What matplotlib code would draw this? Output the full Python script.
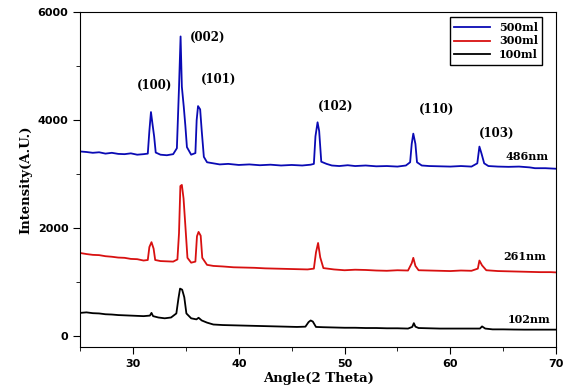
import matplotlib
matplotlib.use("Agg")
import matplotlib.pyplot as plt
from matplotlib.ticker import MultipleLocator

# 500ml sample (blue)
ang_500 = [25.0, 25.6, 26.2, 26.8, 27.4, 28.0, 28.6, 29.2, 29.8, 30.4, 31.0, 31.4,
           31.55, 31.7, 31.85, 32.0, 32.15, 32.6, 33.2, 33.8, 34.15, 34.35, 34.5,
           34.62, 34.8, 34.95, 35.1, 35.5, 35.9, 36.02, 36.15, 36.35, 36.5, 36.7,
           37.0, 37.6, 38.2, 39.0, 40.0, 41.0, 42.0, 43.0, 44.0, 45.0, 46.0, 46.8,
           47.1, 47.25, 47.45, 47.6, 47.8, 48.3, 48.8, 49.5, 50.3, 51.0, 52.0,
           53.0, 54.0, 55.0, 55.8, 56.2, 56.35, 56.5, 56.7, 56.85, 57.3, 58.0,
           59.0, 60.0, 61.0, 62.0, 62.55, 62.75, 62.95, 63.2, 63.6, 64.5, 65.5,
           66.5, 67.5, 68.0, 69.0, 70.0]
int_500 = [3420, 3410, 3395, 3405, 3380, 3395, 3375, 3370, 3385, 3360, 3370, 3380,
           3800, 4150, 3920, 3700, 3400, 3360, 3350, 3370, 3480, 4600, 5550,
           4620, 4250, 3900, 3500, 3360, 3390, 4000, 4260, 4200, 3800, 3320,
           3220, 3200, 3180, 3190, 3170, 3180, 3165, 3175, 3160, 3170, 3160, 3175,
           3190, 3700, 3960, 3800, 3230, 3190, 3160, 3150, 3165, 3150, 3160,
           3145, 3150, 3140, 3160, 3220, 3560, 3750, 3560, 3220, 3160, 3150,
           3145, 3140, 3150, 3140, 3200, 3510, 3380, 3200, 3150, 3140, 3135,
           3140, 3125, 3110, 3110, 3100]

# 300ml sample (red)
ang_300 = [25.0, 25.6, 26.2, 26.8, 27.4, 28.0, 28.6, 29.2, 29.8, 30.4, 31.0, 31.4,
           31.55, 31.75, 31.95, 32.1, 32.6, 33.2, 33.8, 34.2, 34.35, 34.48, 34.62,
           34.78, 34.95, 35.15, 35.5, 35.9, 36.05, 36.2, 36.4, 36.55, 37.0, 37.6,
           38.5, 39.5, 40.5, 41.5, 42.5, 43.5, 44.5, 45.5, 46.5, 47.1, 47.3, 47.5,
           47.7, 48.0, 49.0, 50.0, 51.0, 52.0, 53.0, 54.0, 55.0, 56.0, 56.35, 56.5,
           56.7, 57.0, 58.0, 59.0, 60.0, 61.0, 62.0, 62.6, 62.75, 63.0, 63.4, 64.5,
           65.5, 66.5, 67.5, 68.5, 69.5, 70.0]
int_300 = [1540, 1520, 1505, 1500, 1480, 1470, 1455, 1450, 1430, 1425, 1400, 1410,
           1650, 1740, 1620, 1410, 1390, 1385, 1380, 1420, 1900, 2780, 2800,
           2550, 2050, 1450, 1360, 1380, 1850, 1930, 1860, 1450, 1320, 1300,
           1290, 1275, 1270, 1265, 1255, 1250, 1245, 1240, 1235, 1250, 1550, 1725,
           1460, 1260, 1235, 1220, 1230, 1225, 1215, 1210, 1220, 1215, 1350, 1450,
           1300, 1220, 1215, 1210, 1205, 1215, 1210, 1250, 1400, 1310, 1220, 1205,
           1200, 1195, 1190, 1185, 1185, 1180]

# 100ml sample (black)
ang_100 = [25.0, 25.6, 26.2, 26.8, 27.4, 28.0, 28.6, 29.2, 29.8, 30.4, 31.0, 31.6,
           31.75, 31.9, 32.4, 33.0, 33.6, 34.1, 34.3, 34.45, 34.65, 34.85, 35.05,
           35.5, 36.0, 36.2, 36.5, 37.0, 37.6, 38.5, 39.5, 40.5, 41.5, 42.5, 43.5,
           44.5, 45.5, 46.3, 46.6, 46.8, 47.0, 47.3, 48.0, 49.0, 50.0, 51.0, 52.0,
           53.0, 54.0, 55.0, 56.0, 56.4, 56.55, 56.7, 57.0, 58.0, 59.0, 60.0, 61.0,
           62.0, 62.8, 63.0, 63.3, 64.0, 65.0, 66.0, 67.0, 68.0, 69.0, 70.0]
int_100 = [430, 440, 425, 420, 405, 400, 390, 385, 380, 375, 370, 380,
           430, 370, 345, 330, 345, 420, 700, 880, 860, 720, 420,
           330, 310, 340, 290, 250, 215, 205, 200, 195, 190, 185, 180,
           175, 170, 175, 260, 290, 270, 170, 165, 160, 155, 155, 150,
           150, 145, 145, 140, 170, 240, 175, 150, 145, 140, 140, 140,
           140, 140, 180, 140, 125, 125, 122, 120, 120, 120, 120]

peaks = ["(100)", "(002)", "(101)", "(102)", "(110)", "(103)"]
peak_x = [32.0, 37.1, 38.1, 49.2, 58.7, 64.4]
peak_y = [4650, 5540, 4750, 4250, 4190, 3760]

sizes = ["486nm", "261nm", "102nm"]
size_x = [67.3, 67.0, 67.4]
size_y = [3320, 1480, 300]

serif = "DejaVu Serif"

fig = plt.figure(figsize=(5.64, 3.92), dpi=100)
ax = fig.add_axes([0.142, 0.115, 0.844, 0.854])

ax.plot(ang_500, int_500, color="#0a0ab4", lw=1.3, label="500ml")
ax.plot(ang_300, int_300, color="#d81010", lw=1.3, label="300ml")
ax.plot(ang_100, int_100, color="black", lw=1.3, label="100ml")

for t, x, y in zip(peaks, peak_x, peak_y):
    ax.text(x, y, t, ha="center", va="center", fontsize=8.5,
            fontweight="bold", family=serif)
for t, x, y in zip(sizes, size_x, size_y):
    ax.text(x, y, t, ha="center", va="center", fontsize=8,
            fontweight="bold", family=serif)

ax.set_xlim(25, 70)
ax.set_ylim(-200, 6000)
ax.xaxis.set_major_locator(MultipleLocator(10))
ax.xaxis.set_minor_locator(MultipleLocator(5))
ax.yaxis.set_major_locator(MultipleLocator(2000))
ax.yaxis.set_minor_locator(MultipleLocator(1000))
ax.tick_params(which="both", direction="out", top=False, right=False)
ax.tick_params(which="major", length=5, labelsize=8)
ax.tick_params(which="minor", length=3)
for lab in ax.get_xticklabels() + ax.get_yticklabels():
    lab.set_fontweight("bold")

ax.set_xlabel("Angle(2 Theta)", fontsize=9.5, fontweight="bold",
              family=serif, labelpad=2)
ax.set_ylabel("Intensity(A.U.)", fontsize=9.5, fontweight="bold",
              family=serif, labelpad=4)

leg = ax.legend(loc="upper right", bbox_to_anchor=(0.971, 0.985),
                borderaxespad=0, fancybox=False, edgecolor="black",
                prop={"family": serif, "weight": "bold", "size": 8},
                handlelength=3.2, labelspacing=0.25, framealpha=1)
leg.get_frame().set_linewidth(1.0)

fig.savefig("out.png", dpi=100)
